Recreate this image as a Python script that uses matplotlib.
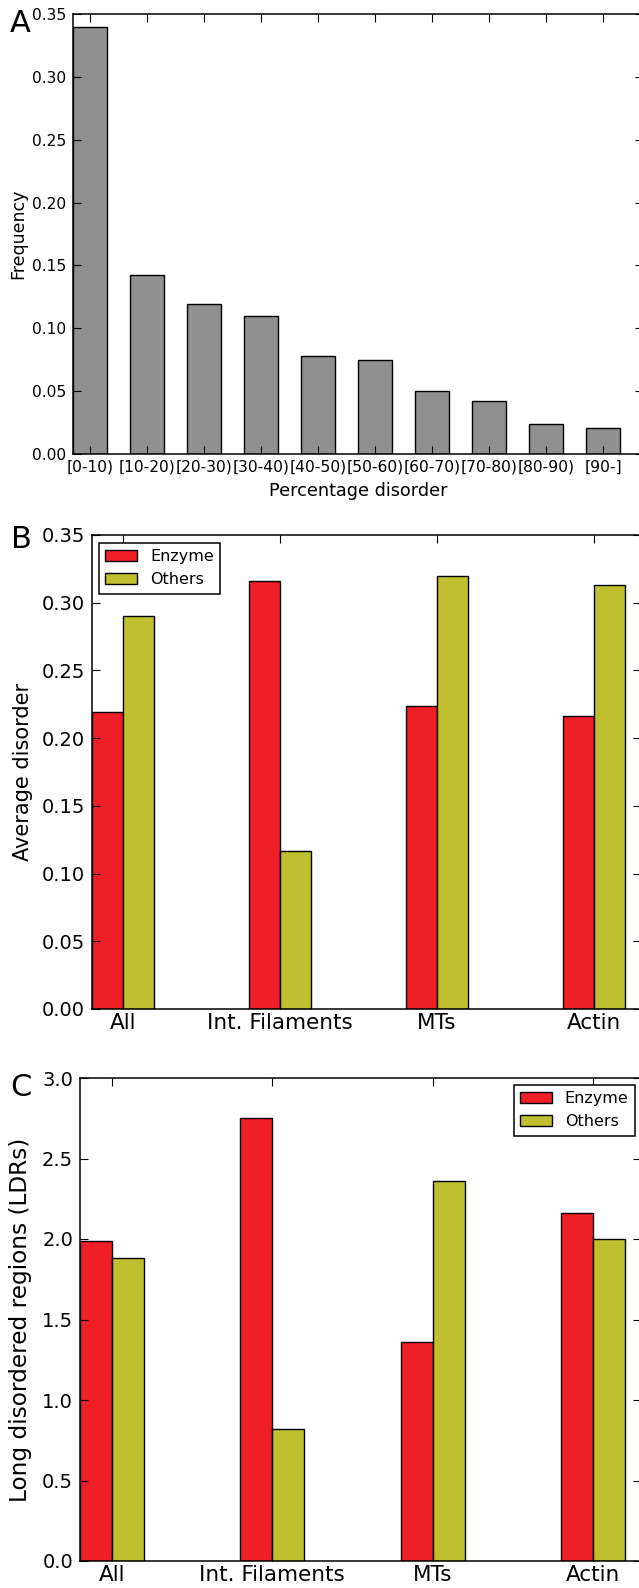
import matplotlib
matplotlib.use("Agg")
import matplotlib.pyplot as plt
import numpy as np

# ---- data ----
bins = ["[0-10)", "[10-20)", "[20-30)", "[30-40)", "[40-50)", "[50-60)",
        "[60-70)", "[70-80)", "[80-90)", "[90-]"]
freq = [0.340, 0.142, 0.119, 0.110, 0.078, 0.075, 0.050, 0.042, 0.024, 0.021]

groups = ["All", "Int. Filaments", "MTs", "Actin"]
avg_enzyme = [0.219, 0.316, 0.224, 0.216]
avg_others = [0.290, 0.117, 0.320, 0.313]
ldr_enzyme = [1.99, 2.75, 1.36, 2.16]
ldr_others = [1.88, 0.82, 2.36, 2.00]

W, H = 639, 1588
DPI = 100
fig = plt.figure(figsize=(W / DPI, H / DPI), dpi=DPI)

RED = "#ee1f25"
OLIVE = "#bfbf30"
GRAY = "#909090"


def add_axes_px(left, top, right, bottom):
    return fig.add_axes([left / W, 1 - bottom / H, (right - left) / W, (bottom - top) / H])


def style(ax, yfs, xfs):
    ax.tick_params(direction="in", top=True, right=True, length=5.5, width=0.8, pad=5)
    ax.tick_params(axis="y", labelsize=yfs)
    ax.tick_params(axis="x", labelsize=xfs)
    for s in ax.spines.values():
        s.set_linewidth(1.1)
        s.set_color("black")


def ylabel_at(ax, text, xpx, fs, left, right):
    ax.set_ylabel(text, fontsize=fs)
    ax.yaxis.set_label_coords((xpx - left) / (right - left), 0.5)


# ---- Panel A ----
lA, tA, rA, bA = 73, 14, 643, 454
axA = add_axes_px(lA, tA, rA, bA)
xA = np.arange(len(bins))
axA.bar(xA, freq, width=0.6, align="edge", color=GRAY, edgecolor="black", linewidth=1.0)
axA.set_xlim(0, 10)
axA.set_ylim(0, 0.35)
axA.set_yticks(np.arange(0, 0.351, 0.05))
axA.set_yticklabels([f"{v:.2f}" for v in np.arange(0, 0.351, 0.05)])
axA.set_xticks(xA + 0.3)
axA.set_xticklabels(bins)
style(axA, 11.2, 11.2)
axA.tick_params(axis="x", pad=4)
axA.set_xlabel("Percentage disorder", fontsize=12.7, labelpad=5)
ylabel_at(axA, "Frequency", 27, 12.5, lA, rA)
fig.text(20 / W, 1 - 23 / H, "A", fontsize=22, ha="center", va="center")

# ---- Panel B ----
lB, tB, rB, bB = 91.7, 535, 641, 1009
axB = add_axes_px(lB, tB, rB, bB)
xG = np.arange(len(groups))
axB.bar(xG, avg_enzyme, width=0.2, align="edge", color=RED, edgecolor="black",
        linewidth=1.0, label="Enzyme")
axB.bar(xG + 0.2, avg_others, width=0.2, align="edge", color=OLIVE, edgecolor="black",
        linewidth=1.0, label="Others")
axB.set_xlim(0, 3.5)
axB.set_ylim(0, 0.35)
axB.set_yticks(np.arange(0, 0.351, 0.05))
axB.set_yticklabels([f"{v:.2f}" for v in np.arange(0, 0.351, 0.05)])
axB.set_xticks(xG + 0.2)
axB.set_xticklabels(groups)
style(axB, 14, 15.5)
axB.tick_params(axis="x", pad=3)
ylabel_at(axB, "Average disorder", 33, 15, lB, rB)
legB = axB.legend(loc="upper left",
                  bbox_to_anchor=((99 - lB) / (rB - lB), 1 - (543 - tB) / (bB - tB)),
                  borderaxespad=0, fontsize=11.5, fancybox=False, framealpha=1,
                  edgecolor="black", handlelength=2.0)
legB.get_frame().set_linewidth(1.1)
fig.text(21 / W, 1 - 539 / H, "B", fontsize=22, ha="center", va="center")

# ---- Panel C ----
lC, tC, rC, bC = 80, 1078, 641, 1561
axC = add_axes_px(lC, tC, rC, bC)
axC.bar(xG, ldr_enzyme, width=0.2, align="edge", color=RED, edgecolor="black",
        linewidth=1.0, label="Enzyme")
axC.bar(xG + 0.2, ldr_others, width=0.2, align="edge", color=OLIVE, edgecolor="black",
        linewidth=1.0, label="Others")
axC.set_xlim(0, 3.5)
axC.set_ylim(0, 3.0)
axC.set_yticks(np.arange(0, 3.01, 0.5))
axC.set_yticklabels([f"{v:.1f}" for v in np.arange(0, 3.01, 0.5)])
axC.set_xticks(xG + 0.2)
axC.set_xticklabels(groups)
style(axC, 14, 15.5)
axC.tick_params(axis="x", pad=3)
ylabel_at(axC, "Long disordered regions (LDRs)", 32, 16.7, lC, rC)
legC = axC.legend(loc="upper right",
                  bbox_to_anchor=((635 - lC) / (rC - lC), 1 - (1085 - tC) / (bC - tC)),
                  borderaxespad=0, fontsize=11.5, fancybox=False, framealpha=1,
                  edgecolor="black", handlelength=2.0)
legC.get_frame().set_linewidth(1.1)
fig.text(21 / W, 1 - 1087 / H, "C", fontsize=22, ha="center", va="center")

fig.savefig("out.png", dpi=DPI)
